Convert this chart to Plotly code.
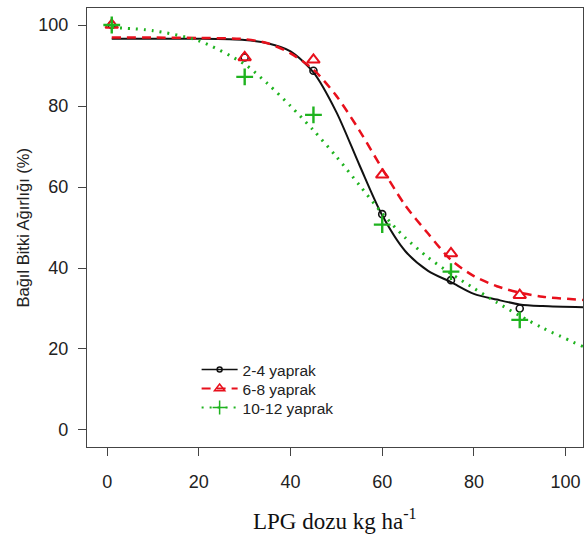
import plotly.graph_objects as go

# Observed data points
dose = [1, 30, 45, 60, 75, 90]
y_24 = [100, 92.0, 88.7, 53.3, 37.0, 30.0]
y_68 = [100, 92.0, 91.4, 63.0, 43.6, 33.3]
y_1012 = [100, 87.2, 77.8, 50.7, 39.1, 27.2]

# Fitted curves
fit_x = [1, 10, 20, 30, 35, 40, 45, 50, 55, 60, 65, 70, 75, 80, 85, 90, 95, 104]
fit_24 = [96.6, 96.6, 96.6, 96.3, 95.5, 93.5, 88.3, 78.5, 65.5, 53.0, 44.2, 39.3, 36.5, 33.6, 32.2, 31.0, 30.6, 30.3]
fit_68 = [96.9, 96.9, 96.8, 96.5, 95.5, 93.0, 89.0, 82.5, 74.0, 64.5, 55.5, 48.5, 42.0, 38.0, 35.5, 33.9, 32.9, 32.1]
fit_1012 = [99.4, 98.6, 96.1, 90.3, 85.5, 80.0, 74.0, 67.5, 60.5, 53.5, 47.5, 42.6, 38.6, 35.0, 31.5, 28.2, 25.2, 20.5]

names = ["2-4 yaprak", "6-8 yaprak", "10-12 yaprak"]
x_ticks = [0, 20, 40, 60, 80, 100]
y_ticks = [0, 20, 40, 60, 80, 100]

BLACK = "#111111"
RED = "#e8101c"
GREEN = "#1fb31f"

styles = [
    dict(color=BLACK, dash="solid", width=2, symbol="circle-open", msize=7, mlw=1.6),
    dict(color=RED, dash="9px,6px", width=2.5, symbol="triangle-up-open", msize=11, mlw=2),
    dict(color=GREEN, dash="2px,6px", width=3, symbol="cross-thin-open", msize=12, mlw=2.4),
]
ys = [y_24, y_68, y_1012]
fits = [fit_24, fit_68, fit_1012]
legend_ids = ["legend", "legend2", "legend3"]

fig = go.Figure()
for name, yv, fv, s, lid in zip(names, ys, fits, styles, legend_ids):
    fig.add_trace(go.Scatter(x=fit_x, y=fv, mode="lines", line=dict(color=s["color"], dash=s["dash"], width=s["width"], shape="spline", smoothing=0.8),
                             showlegend=False, hoverinfo="skip"))
    fig.add_trace(go.Scatter(x=dose, y=yv, mode="markers",
                             marker=dict(symbol=s["symbol"], size=s["msize"], color=s["color"], line=dict(color=s["color"], width=s["mlw"])),
                             showlegend=False))
    fig.add_trace(go.Scatter(x=[None], y=[None], mode="lines+markers", name=name, legend=lid,
                             line=dict(color=s["color"], dash=s["dash"], width=1.5 if s["dash"] == "solid" else 2),
                             marker=dict(symbol=s["symbol"], size=s["msize"] - 2, color=s["color"], line=dict(color=s["color"], width=1.5))))

axis_common = dict(showline=True, linecolor="#444444", linewidth=1.2, mirror=True, ticks="outside",
                   ticklen=8, tickwidth=1.2, tickcolor="#444444", showgrid=False, zeroline=False,
                   tickfont=dict(family="Liberation Sans, Arial", size=18, color="#222222"))

row_y = [0.1754, 0.1321, 0.0888]
legend_font = dict(family="Liberation Sans, Arial", size=15.5, color="#222222")
legends = {}
for lid, yy in zip(legend_ids, row_y):
    legends[lid] = dict(x=0.221, y=yy, xanchor="left", yanchor="middle", bgcolor="rgba(0,0,0,0)",
                        font=legend_font, itemwidth=36)

fig.update_layout(
    width=584, height=540,
    margin=dict(l=87, r=1, t=8, b=93),
    paper_bgcolor="white", plot_bgcolor="white",
    xaxis=dict(range=[-4.4, 103.8], tickvals=x_ticks, ticklabelstandoff=10, **axis_common),
    yaxis=dict(range=[-4.2, 104.2], tickvals=y_ticks, ticklabelstandoff=6, **axis_common),
    annotations=[
        dict(text="LPG dozu kg ha<sup>-1</sup>", xref="paper", yref="paper", x=0.5, y=-0.166,
             xanchor="center", yanchor="middle", showarrow=False,
             font=dict(family="Liberation Serif, Times New Roman", size=23, color="#111111")),
        dict(text="Bağıl Bitki Ağırlığı (%)", xref="paper", yref="paper", x=-0.131, y=0.5,
             xanchor="center", yanchor="middle", textangle=-90, showarrow=False,
             font=dict(family="Liberation Sans, Arial", size=16.5, color="#222222")),
    ],
    **legends,
)

fig.write_html("out.html", config={"displayModeBar": False},
               post_script="document.body.style.margin='0';document.body.style.overflow='hidden';")
